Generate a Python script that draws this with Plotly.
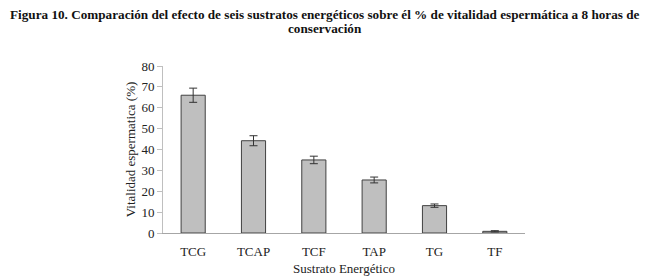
import plotly.graph_objects as go

categories = ["TCG", "TCAP", "TCF", "TAP", "TG", "TF"]
vitalidad = [66.0, 44.2, 35.0, 25.4, 13.1, 0.8]
error = [3.4, 2.4, 1.8, 1.4, 0.8, 0.3]
y_ticks = [0, 10, 20, 30, 40, 50, 60, 70, 80]
title_lines = [
    "Figura 10. Comparación del efecto de seis sustratos energéticos sobre él % de vitalidad espermática a 8 horas de",
    "conservación",
]

serif = "Liberation Serif, Times New Roman, serif"

fig = go.Figure(go.Bar(
    x=categories, y=vitalidad,
    marker=dict(color="#bfbfbf", line=dict(color="#404040", width=1)),
    error_y=dict(type="data", array=error, color="#333333", thickness=1, width=4),
    width=0.4,
))

plot_left, plot_w = 163, 362
plot_top, plot_h = 66, 167
for line, ypix in zip(title_lines, [14, 28]):
    fig.add_annotation(
        text="<b>" + line + "</b>", xref="paper", yref="paper",
        x=(325 - plot_left) / plot_w, xanchor="center",
        y=(plot_top + plot_h - ypix) / plot_h, yanchor="middle",
        showarrow=False, font=dict(family=serif, size=13.2, color="#111111"),
    )

fig.update_layout(
    width=650, height=279,
    margin=dict(l=plot_left, r=650 - plot_left - plot_w, t=plot_top, b=279 - plot_top - plot_h,
                autoexpand=False),
    paper_bgcolor="white", plot_bgcolor="white",
    showlegend=False,
    font=dict(family=serif, size=13, color="#222222"),
    xaxis=dict(
        showline=True, linecolor="#a6a6a6", linewidth=1, automargin=False,
        ticks="", tickfont=dict(size=13), ticklabelstandoff=6,
        title=dict(text="Sustrato Energético", font=dict(size=13), standoff=6),
    ),
    yaxis=dict(
        range=[0, 80], tickvals=y_ticks, automargin=False,
        showline=True, linecolor="#bfbfbf", linewidth=1,
        ticks="outside", ticklen=5, tickcolor="#bfbfbf",
        showgrid=False, zeroline=False,
        tickfont=dict(size=13),
        title=dict(text="Vitalidad espermatica (%)", font=dict(size=13), standoff=2),
    ),
)

fig.write_html("out.html", config={"displayModeBar": False},
               post_script="document.body.style.margin='0';")
